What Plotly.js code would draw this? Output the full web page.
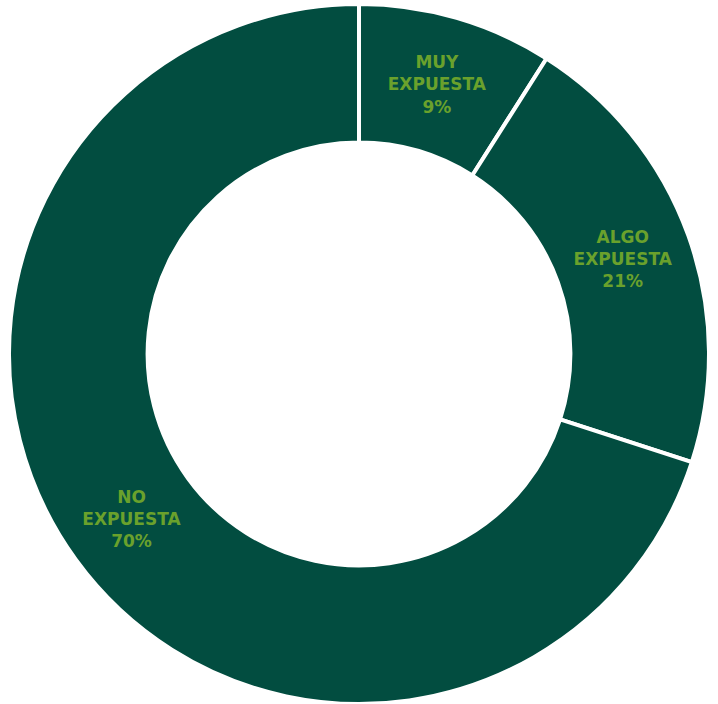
<!DOCTYPE html>
<html>
<head>
<meta charset="utf-8">
<script src="https://cdn.plot.ly/plotly-3.0.1.min.js"></script>
<style>html,body{margin:0;padding:0;background:#fff;}#chart{width:718px;height:704px;}</style>
</head>
<body>
<div id="chart"></div>
<script>
const labels = ["MUY<br>EXPUESTA", "ALGO<br>EXPUESTA", "NO<br>EXPUESTA"];
const values = [9, 21, 70];
const sliceColor = "#024d40";
const textColor = "#6aa12c";

const texts = labels.map((l, i) => l + "<br>" + values[i] + "%");

Plotly.newPlot("chart", [{
  type: "pie",
  labels: labels,
  values: values,
  text: texts,
  textinfo: "text",
  hoverinfo: "none",
  textposition: "inside",
  insidetextorientation: "horizontal",
  sort: false,
  direction: "clockwise",
  rotation: 0,
  hole: 0.604,
  marker: { colors: [sliceColor, sliceColor, sliceColor], line: { color: "#ffffff", width: 4 } },
  textfont: { family: "DejaVu Sans, sans-serif", size: 17, color: textColor, weight: "bold" },
  showlegend: false
}], {
  width: 718, height: 704,
  margin: { l: 0, r: 0, t: 4, b: 0 },
  paper_bgcolor: "#ffffff",
  showlegend: false
}, { displayModeBar: false, staticPlot: true });
</script>
</body>
</html>
